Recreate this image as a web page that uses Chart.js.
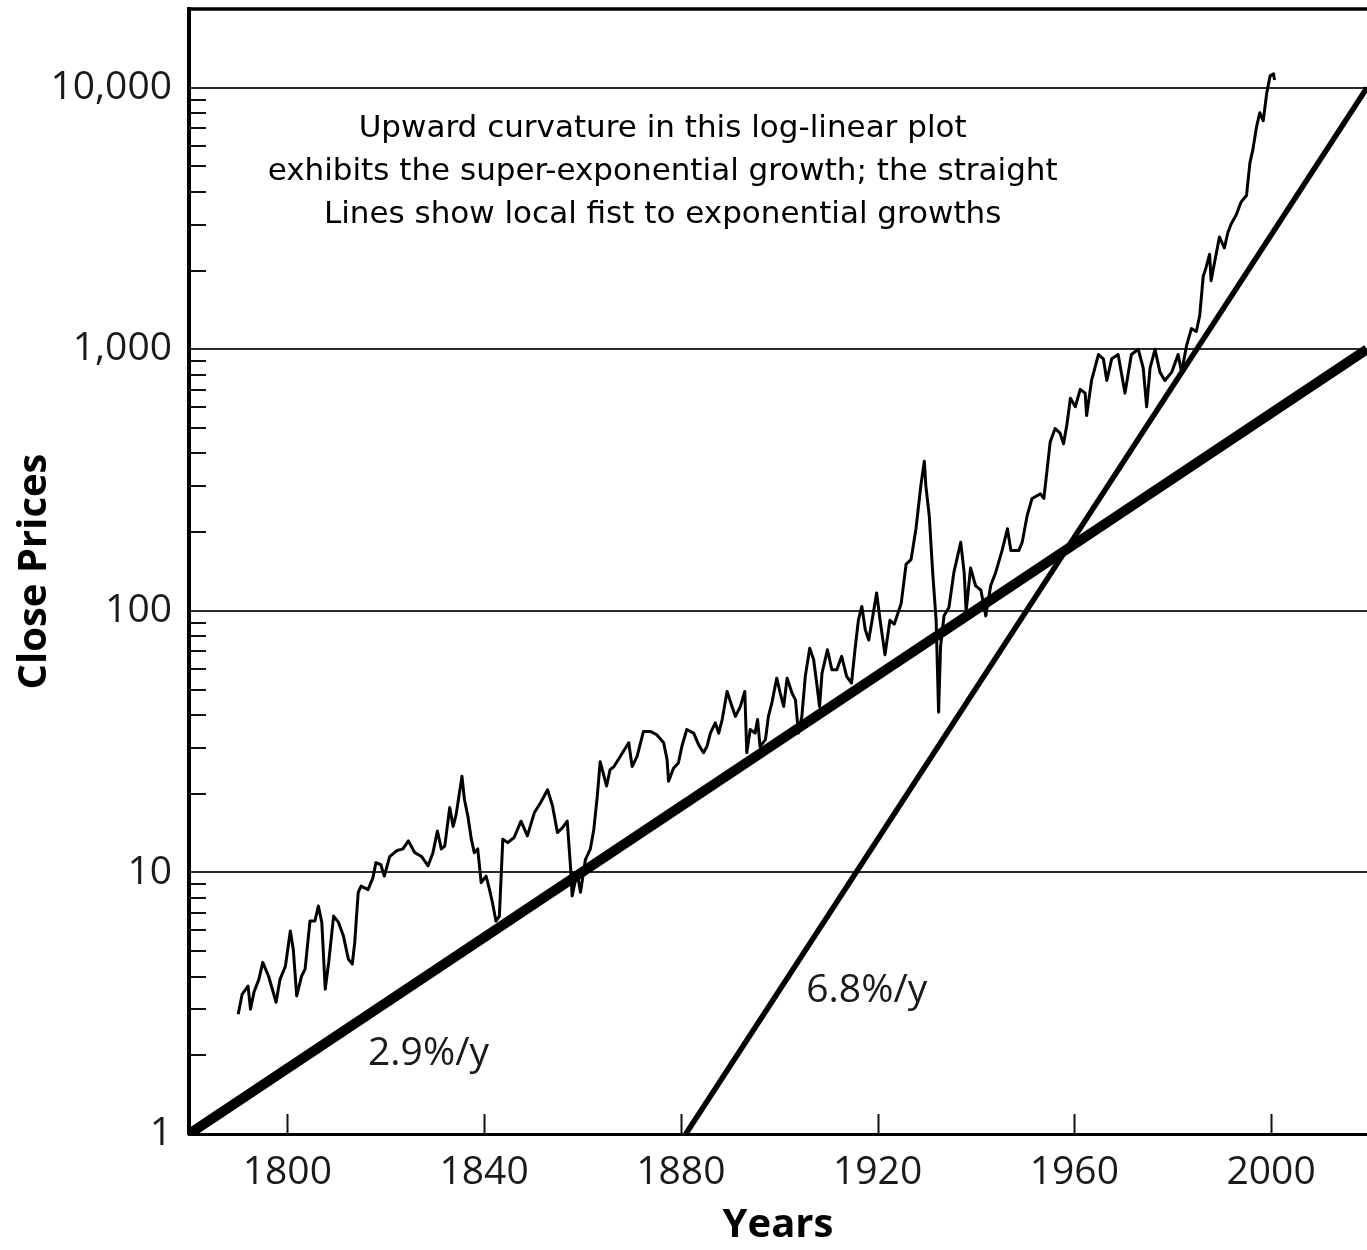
<!DOCTYPE html>
<html>
<head>
<meta charset="utf-8">
<title>Close Prices</title>
<script src="https://cdn.jsdelivr.net/npm/chart.js@4.4.1/dist/chart.umd.min.js"></script>
<style>
  html, body { margin: 0; padding: 0; background: #fff; }
  canvas { display: block; }
</style>
</head>
<body>
<canvas id="priceChart" width="1367" height="1250"></canvas>
<script>
// close prices (year, value)
const years = [
  1790.0, 1790.8, 1792.0, 1792.5, 1793.2, 1794.2, 1795.0, 1796.2, 1797.7, 1798.5,
  1799.6, 1800.6, 1801.2, 1801.9, 1802.9, 1803.6, 1804.6, 1805.6, 1806.3, 1807.0,
  1807.7, 1808.4, 1809.4, 1810.4, 1811.4, 1812.4, 1813.2, 1813.7, 1814.4, 1815.0,
  1816.4, 1817.4, 1818.0, 1819.0, 1819.7, 1820.8, 1822.2, 1823.5, 1824.6, 1825.9,
  1827.3, 1828.6, 1829.6, 1830.5, 1831.3, 1832.0, 1833.0, 1833.7, 1834.3, 1835.5,
  1836.0, 1836.7, 1837.4, 1838.0, 1838.7, 1839.4, 1840.4, 1841.1, 1841.7, 1842.4,
  1843.1, 1843.8, 1844.8, 1846.1, 1847.5, 1848.8, 1850.2, 1851.5, 1852.9, 1853.9,
  1854.9, 1855.9, 1856.9, 1857.6, 1857.9, 1858.9, 1859.6, 1860.6, 1861.6, 1862.3,
  1863.0, 1863.6, 1864.9, 1865.6, 1866.4, 1867.7, 1869.4, 1870.1, 1871.1, 1872.4,
  1873.8, 1875.1, 1876.5, 1877.2, 1877.5, 1878.5, 1879.5, 1880.2, 1881.2, 1882.6,
  1883.6, 1884.6, 1885.3, 1886.0, 1887.0, 1887.7, 1888.4, 1889.4, 1890.4, 1891.1,
  1892.1, 1893.0, 1893.4, 1894.1, 1895.1, 1895.6, 1896.1, 1897.2, 1897.8, 1898.5,
  1899.5, 1900.2, 1900.9, 1901.6, 1902.6, 1903.3, 1903.9, 1904.6, 1905.3, 1906.2,
  1907.0, 1907.7, 1908.2, 1908.7, 1909.8, 1910.7, 1911.7, 1912.7, 1913.7, 1914.7,
  1915.4, 1916.1, 1916.8, 1917.5, 1918.2, 1919.0, 1919.8, 1920.5, 1921.5, 1922.5,
  1923.4, 1924.8, 1925.8, 1926.8, 1927.8, 1928.8, 1929.5, 1929.8, 1930.5, 1931.2,
  1931.9, 1932.4, 1932.8, 1933.5, 1934.5, 1935.5, 1936.9, 1937.6, 1938.0, 1938.9,
  1939.9, 1941.0, 1942.0, 1943.0, 1944.0, 1945.3, 1946.4, 1947.1, 1948.7, 1949.4,
  1950.4, 1951.4, 1953.1, 1953.8, 1954.5, 1955.1, 1956.1, 1957.1, 1957.8, 1958.5,
  1959.2, 1960.2, 1961.2, 1962.2, 1962.5, 1963.5, 1964.9, 1965.9, 1966.6, 1967.6,
  1968.9, 1970.3, 1971.6, 1973.0, 1974.0, 1974.7, 1975.4, 1976.4, 1977.4, 1978.4,
  1979.8, 1981.1, 1981.8, 1982.8, 1983.8, 1984.8, 1985.5, 1986.2, 1986.8, 1987.5,
  1987.8, 1989.5, 1990.5, 1991.2, 1991.9, 1992.9, 1993.9, 1995.0, 1995.7, 1996.3,
  1997.0, 1997.7, 1998.4, 1999.1, 1999.8, 2000.5, 2000.7
];
const closes = [
  2.87, 3.42, 3.68, 3.0, 3.48, 3.9, 4.53, 4.0, 3.19, 3.9,
  4.38, 5.97, 5.08, 3.37, 4.02, 4.27, 6.52, 6.52, 7.44, 6.44,
  3.58, 4.53, 6.81, 6.44, 5.71, 4.66, 4.46, 5.41, 8.39, 8.87,
  8.6, 9.55, 10.9, 10.7, 9.68, 11.5, 12.1, 12.3, 13.2, 11.9,
  11.5, 10.6, 11.9, 14.4, 12.3, 12.6, 17.7, 15.0, 16.6, 23.3,
  19.0, 16.4, 13.4, 11.9, 12.3, 9.14, 9.68, 8.6, 7.66, 6.52,
  6.8, 13.4, 13.0, 13.6, 15.7, 13.8, 16.9, 18.5, 20.7, 18.0,
  14.2, 14.8, 15.7, 10.3, 8.13, 10.0, 8.4, 11.2, 12.3, 14.6,
  19.5, 26.5, 21.4, 24.7, 25.4, 27.8, 31.3, 25.4, 27.8, 34.6,
  34.6, 33.6, 31.3, 27.0, 22.3, 25.0, 26.2, 30.3, 35.2, 34.1,
  30.8, 28.7, 30.3, 34.1, 37.3, 34.1, 38.4, 49.2, 43.1, 39.5,
  43.1, 49.2, 28.7, 35.2, 34.1, 38.4, 30.3, 32.2, 39.5, 44.5,
  55.3, 48.5, 43.1, 55.3, 48.5, 45.7, 34.1, 39.5, 56.2, 72,
  65, 51.4, 43.1, 57.8, 71, 59.6, 59.6, 67, 56.2, 53,
  71, 92.4, 104, 84.6, 77.4, 95, 117, 92.4, 68, 92,
  89, 107, 151, 157, 206, 302, 373, 302, 231, 140,
  92, 41, 73, 95.7, 103, 140, 183, 140, 99.5, 146,
  125, 120, 95.7, 125, 140, 170, 206, 170, 170, 183,
  231, 269, 280, 269, 352, 443, 498, 478, 435, 517,
  650, 603, 703, 680, 558, 760, 955, 920, 760, 920,
  955, 680, 955, 1000, 850, 603, 850, 1000, 818, 760,
  818, 955, 818, 1030, 1200, 1170, 1350, 1900, 2060, 2310,
  1830, 2690, 2440, 2790, 3020, 3260, 3660, 3870, 5170, 5800,
  7020, 8030, 7480, 9500, 11100, 11300, 10700
];

// fitted exponential trends (end points)
const slowTrendYears = [1780, 2019.5];
const slowTrendValues = [1, 1000];
const fastTrendYears = [1881, 2019.5];
const fastTrendValues = [1, 10000];

const xTickYears = [1800, 1840, 1880, 1920, 1960, 2000];
const yLabelValues = [1, 10, 100, 1000, 10000];
const noteLines = [
  'Upward curvature in this log-linear plot',
  'exhibits the super-exponential growth; the straight',
  'Lines show local fist to exponential growths'
];
const slowLabel = '2.9%/y';
const fastLabel = '6.8%/y';

// minor log ticks 2..9 inside each decade below 10,000
const yMinorValues = [];
yLabelValues.slice(0, -1).forEach(d => {
  for (let m = 2; m <= 9; m++) yMinorValues.push(d * m);
});
const yTickValues = yLabelValues.concat(yMinorValues).sort((a, b) => a - b);

const toPoints = (xs, ys) => xs.map((v, i) => ({ x: v, y: ys[i] }));

const labelFont = '"Open Sans", "Noto Sans", sans-serif';

const notesPlugin = {
  id: 'notes',
  afterDraw(chart) {
    const { ctx, chartArea: a, scales: { x, y } } = chart;
    ctx.save();
    // inner tick marks
    ctx.strokeStyle = '#111';
    ctx.lineWidth = 2;
    ctx.beginPath();
    yMinorValues.forEach(v => {
      const py = Math.round(y.getPixelForValue(v));
      ctx.moveTo(a.left, py);
      ctx.lineTo(a.left + 17, py);
    });
    xTickYears.forEach(v => {
      const px = Math.round(x.getPixelForValue(v)) + 0.5;
      ctx.moveTo(px, a.bottom);
      ctx.lineTo(px, a.bottom - 20);
    });
    ctx.stroke();
    // top frame
    ctx.lineWidth = 3.5;
    ctx.strokeStyle = '#000';
    ctx.beginPath();
    ctx.moveTo(a.left, a.top);
    ctx.lineTo(a.right, a.top);
    ctx.stroke();

    ctx.fillStyle = '#000';
    ctx.textAlign = 'center';
    ctx.textBaseline = 'alphabetic';
    ctx.font = '31px "DejaVu Sans", Verdana, sans-serif';
    const cx = x.getPixelForValue(1876.3);
    noteLines.forEach((t, i) => ctx.fillText(t, cx, a.top + 128 + i * 43));

    ctx.fillStyle = '#1a1a1a';
    ctx.font = '39px ' + labelFont;
    ctx.fillText(slowLabel, x.getPixelForValue(1828.7), y.getPixelForValue(1.84));
    ctx.fillText(fastLabel, x.getPixelForValue(1917.8), y.getPixelForValue(3.2));
    ctx.restore();
  }
};

new Chart(document.getElementById('priceChart'), {
  type: 'line',
  data: {
    datasets: [
      {
        data: toPoints(years, closes),
        borderColor: '#000',
        borderWidth: 3,
        borderJoinStyle: 'round',
        pointRadius: 0,
        tension: 0,
        fill: false
      },
      {
        data: toPoints(slowTrendYears, slowTrendValues),
        borderColor: '#000',
        borderWidth: 10,
        pointRadius: 0,
        clip: 0
      },
      {
        data: toPoints(fastTrendYears, fastTrendValues),
        borderColor: '#000',
        borderWidth: 5.5,
        pointRadius: 0,
        clip: 0
      }
    ]
  },
  options: {
    responsive: false,
    animation: false,
    layout: { padding: { top: 9, left: 0, right: 0, bottom: 0 } },
    plugins: {
      legend: { display: false },
      tooltip: { enabled: false }
    },
    scales: {
      x: {
        type: 'linear',
        min: 1780,
        max: 2019.5,
        afterBuildTicks: s => { s.ticks = xTickYears.map(v => ({ value: v })); },
        afterFit: s => { s.height = 116; s.paddingLeft = 0; s.paddingRight = 0; },
        grid: { display: false, drawTicks: false },
        border: { display: true, color: '#000', width: 3 },
        ticks: {
          autoSkip: false,
          maxRotation: 0,
          padding: 15,
          color: '#1a1a1a',
          font: { family: labelFont, size: 39 },
          callback: v => String(v)
        },
        title: {
          display: true,
          text: 'Years',
          color: '#000',
          padding: { top: 0, bottom: 0 },
          font: { family: labelFont, size: 40, weight: 'bold' }
        }
      },
      y: {
        type: 'logarithmic',
        min: 1,
        max: 20000,
        afterBuildTicks: s => { s.ticks = yTickValues.map(v => ({ value: v })); },
        afterFit: s => { s.width = 189; s.paddingTop = 0; s.paddingBottom = 0; },
        grid: {
          drawTicks: false,
          lineWidth: 2,
          color: c => (c.tick && yLabelValues.includes(c.tick.value) && c.tick.value > 1) ? '#2a2a2a' : 'rgba(0,0,0,0)'
        },
        border: { display: true, color: '#000', width: 4 },
        ticks: {
          autoSkip: false,
          padding: 17,
          color: '#1a1a1a',
          font: { family: labelFont, size: 39 },
          callback: v => yLabelValues.includes(v) ? v.toLocaleString('en-US') : ''
        },
        title: {
          display: true,
          text: 'Close Prices',
          color: '#000',
          padding: { top: 11, bottom: 0 },
          font: { family: labelFont, size: 40, weight: 'bold' }
        }
      }
    }
  },
  plugins: [notesPlugin]
});
</script>
</body>
</html>
